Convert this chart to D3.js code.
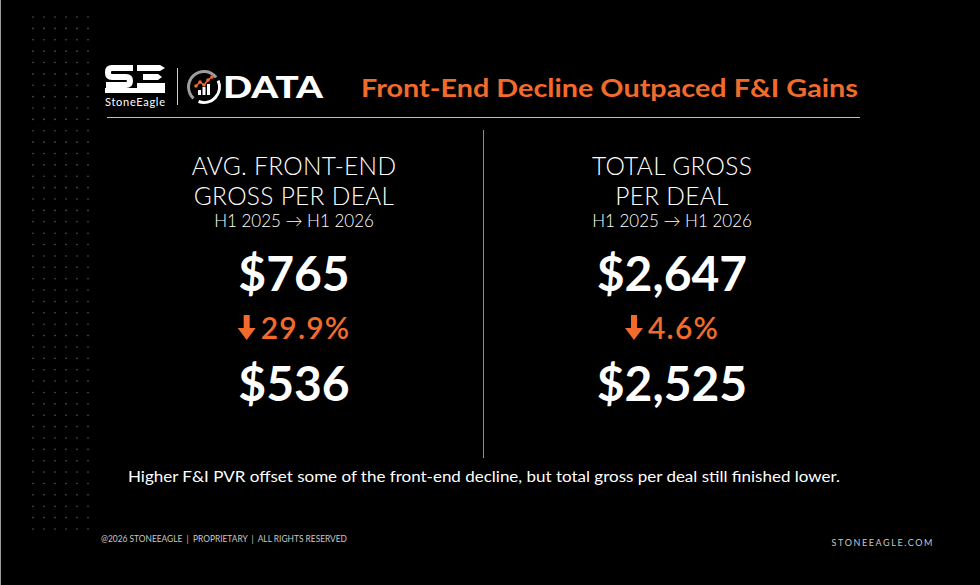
<!DOCTYPE html>
<html>
<head>
<meta charset="utf-8">
<script src="https://cdn.jsdelivr.net/npm/d3@7"></script>
<style>
  html, body { margin: 0; padding: 0; background: #000; }
  svg { display: block; }
</style>
</head>
<body>
<svg id="chart"></svg>
<script>
// chart values
const panelIds = ["frontEnd", "totalGross"];
const panelTitles = [["AVG. FRONT-END", "GROSS PER DEAL"], ["TOTAL GROSS", "PER DEAL"]];
const periodLabels = ["H1 2025 \u2192 H1 2026", "H1 2025 \u2192 H1 2026"];
const startValues = [765, 2647];
const endValues = [536, 2525];
const changePct = [-29.9, -4.6];
const headline = "Front-End Decline Outpaced F&I Gains";
const footnote = "Higher F&I PVR offset some of the front-end decline, but total gross per deal still finished lower.";
const footerLeft = "@2026 STONEEAGLE  |  PROPRIETARY  |  ALL RIGHTS RESERVED";
const footerRight = "STONEEAGLE.COM";

const width = 980;
const height = 585;
const orange = "#f26b2c";
const font = "Lato, 'DejaVu Sans', sans-serif";

const svg = d3.select("#chart").attr("width", width).attr("height", height);
svg.append("rect").attr("width", width).attr("height", height).attr("fill", "#000");
svg.append("line").attr("x1", 0.5).attr("x2", 0.5).attr("y1", 0).attr("y2", height)
  .attr("stroke", "#9a9a9a").attr("stroke-width", 1);

// dotted texture top-left
const dotX = d3.scaleLinear().domain([0, 5]).range([33, 88]);
const dotY = d3.scaleLinear().domain([0, 45]).range([17, 529]);
const dots = [];
d3.range(6).forEach(c => d3.range(46).forEach(r => dots.push([c, r])));
svg.append("g").selectAll("circle").data(dots).enter().append("circle")
  .attr("cx", d => dotX(d[0])).attr("cy", d => dotY(d[1])).attr("r", 0.8).attr("fill", "#5a5a5a");

// logo
const logo = svg.append("g");
// S mark
logo.append("path")
  .attr("d", "M133,68 H112 Q108,68 108,72 V73 Q108,77 112,77 H126 Q130,77 130,81 V81 Q130,85 126,85 H106")
  .attr("fill", "none").attr("stroke", "#fff").attr("stroke-width", 6).attr("stroke-linejoin", "round");
// E / eagle mark
logo.append("path").attr("d", "M137,65 H160 L165,68 L160,71 H137 Z").attr("fill", "#fff");
logo.append("path").attr("d", "M143,74 H158 L162,77 L158,80 H143 Z").attr("fill", "#fff");
logo.append("rect").attr("x", 137).attr("y", 83).attr("width", 28).attr("height", 5).attr("fill", "#fff");
logo.append("rect").attr("x", 105).attr("y", 88).attr("width", 60).attr("height", 5).attr("fill", "#fff");
logo.append("text").text("StoneEagle").attr("x", 135).attr("y", 106).attr("text-anchor", "middle")
  .attr("font-family", font).attr("font-size", 11).attr("fill", "#fff").attr("textLength", 60);
logo.append("line").attr("x1", 177.5).attr("x2", 177.5).attr("y1", 68).attr("y2", 105)
  .attr("stroke", "#cfcfcf").attr("stroke-width", 1);
// circle icon
const icon = logo.append("g").attr("transform", "translate(204,87)");
const arc = d3.arc().innerRadius(14).outerRadius(17);
icon.append("path").attr("d", arc({startAngle: -2.4, endAngle: 0.9})).attr("fill", "#9d9d9d");
icon.append("path").attr("d", arc({startAngle: 1.15, endAngle: 3.5})).attr("fill", "#fff");
[[-6, 3, 5], [-1.5, 0, 8], [3, -3, 11]].forEach(b =>
  icon.append("rect").attr("x", b[0]).attr("y", 8 - b[2]).attr("width", 3).attr("height", b[2]).attr("fill", "#fff"));
const spark = [[-8, -1], [-4, -5], [0, -2], [4, -7], [8, -10]];
icon.append("path").attr("d", d3.line()(spark)).attr("fill", "none").attr("stroke", orange).attr("stroke-width", 1.5);
icon.selectAll("circle.sp").data(spark).enter().append("circle").attr("class", "sp")
  .attr("cx", d => d[0]).attr("cy", d => d[1]).attr("r", 1.8).attr("fill", orange);
logo.append("text").text("DATA").attr("x", 223).attr("y", 98)
  .attr("font-family", font).attr("font-weight", 900).attr("font-size", 31).attr("fill", "#fff")
  .attr("textLength", 100).attr("lengthAdjust", "spacingAndGlyphs");

// headline and rule
svg.append("text").text(headline).attr("x", 361).attr("y", 97)
  .attr("font-family", font).attr("font-weight", 700).attr("font-size", 25).attr("fill", orange)
  .attr("textLength", 497).attr("lengthAdjust", "spacingAndGlyphs");
svg.append("line").attr("x1", 107).attr("x2", 860).attr("y1", 117.5).attr("y2", 117.5)
  .attr("stroke", "#bdbdbd").attr("stroke-width", 1);

// panel divider
svg.append("line").attr("x1", 483.5).attr("x2", 483.5).attr("y1", 130).attr("y2", 458)
  .attr("stroke", "#8a8a8a").attr("stroke-width", 1);

// panels
const x = d3.scalePoint().domain(panelIds).range([294, 672]);
const money = d3.format("$,");
const pct = d3.format(".1f");

const panels = svg.selectAll("g.panel").data(panelIds).enter().append("g")
  .attr("class", "panel").attr("transform", d => `translate(${x(d)},0)`);

panels.each(function(id, i) {
  const g = d3.select(this);
  panelTitles[i].forEach((t, k) => {
    g.append("text").text(t).attr("x", 0).attr("y", 175 + k * 30).attr("text-anchor", "middle")
      .attr("font-family", font).attr("font-weight", 300).attr("font-size", 24.5)
      .attr("letter-spacing", 0.3).attr("fill", "#fff");
  });
  g.append("text").text(periodLabels[i]).attr("x", 0).attr("y", 227).attr("text-anchor", "middle")
    .attr("font-family", font).attr("font-weight", 300).attr("font-size", 17).attr("fill", "#fff");
  g.append("text").text(money(startValues[i])).attr("x", 0).attr("y", 291).attr("text-anchor", "middle")
    .attr("font-family", font).attr("font-weight", 700).attr("font-size", 48).attr("fill", "#fff");
  g.append("text").text(money(endValues[i])).attr("x", 0).attr("y", 401).attr("text-anchor", "middle")
    .attr("font-family", font).attr("font-weight", 700).attr("font-size", 48).attr("fill", "#fff");

  // change with arrow
  const ch = g.append("g");
  const label = ch.append("text").text(pct(Math.abs(changePct[i])) + "%").attr("x", 23).attr("y", 339)
    .attr("font-family", font).attr("font-weight", 600).attr("font-size", 30).attr("letter-spacing", 1.2)
    .attr("fill", orange);
  ch.append("path").attr("d", "M6,315 H12 V328 H18 L9,340 L0,328 H6 Z").attr("fill", orange);
  const w = 23 + label.node().getComputedTextLength();
  ch.attr("transform", `translate(${-w / 2},0)`);
});

// footnote and footer
svg.append("text").text(footnote).attr("x", 484).attr("y", 482).attr("text-anchor", "middle")
  .attr("font-family", font).attr("font-size", 15.5).attr("fill", "#fff")
  .attr("textLength", 712).attr("lengthAdjust", "spacingAndGlyphs");
svg.append("text").text(footerLeft).attr("x", 101).attr("y", 542)
  .attr("font-family", font).attr("font-size", 9).attr("fill", "#c8c8c8")
  .attr("textLength", 246).attr("lengthAdjust", "spacingAndGlyphs").style("white-space", "pre");
svg.append("text").text(footerRight).attr("x", 934).attr("y", 546).attr("text-anchor", "end")
  .attr("font-family", font).attr("font-size", 9).attr("letter-spacing", 1.6).attr("fill", "#c8c8c8");
</script>
</body>
</html>
